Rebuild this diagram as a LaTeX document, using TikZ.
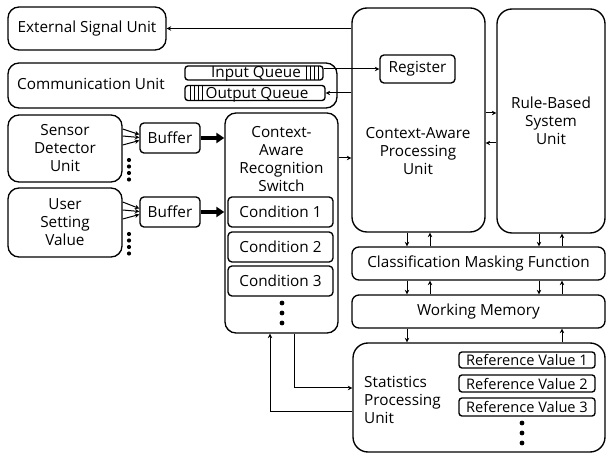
\documentclass[tikz,border=0pt]{standalone}
\usepackage{fontspec}
\setmainfont{Open Sans}
\usetikzlibrary{arrows.meta}
\begin{document}
\begin{tikzpicture}[x=1pt,y=-1pt,
  big/.style={draw, line width=1.35pt, rounded corners=11pt, inner sep=0pt},
  sml/.style={draw, line width=1.35pt, rounded corners=4pt, inner sep=0pt},
  txt/.style={align=center, font=\fontsize{15.3}{18}\selectfont, inner sep=0pt},
  rvt/.style={align=center, font=\fontsize{14.6}{17}\selectfont, inner sep=0pt},
  con/.style={line width=1pt, -{Stealth[length=4.5pt,width=4.5pt]}},
  fat/.style={line width=3.2pt, -{Triangle[length=8pt,width=10pt]}},
  dot/.style={fill, circle, inner sep=0pt, minimum size=4.8pt}
]
\useasboundingbox (0,0) rectangle (606,454);

% left column
\node[big, txt, minimum width=158pt, minimum height=43pt] (esu) at (87,28.5) {External Signal Unit};
\node[big, minimum width=329pt, minimum height=45pt] (comm) at (172.5,85.5) {};
\node[txt, anchor=west] (commlbl) at (17,84) {Communication Unit};
\node[sml, rounded corners=3pt, minimum width=138pt, minimum height=14pt] (inq) at (254,73) {};
\node[txt, anchor=base] (inqlbl) at (256,78) {Input Queue};
\node[sml, rounded corners=3pt, minimum width=140pt, minimum height=15pt] (outq) at (255,93) {};
\node[txt, anchor=base] (outqlbl) at (257,98.5) {Output Queue};
\foreach \xx in {306,310,314,318} {\draw[line width=1pt] (\xx,66) -- (\xx,80);}
\foreach \xx in {190,194,198,202} {\draw[line width=1pt] (\xx,85.5) -- (\xx,100.5);}

\node[big, txt, minimum width=114pt, minimum height=67pt] (sdu) at (65,148.5) {Sensor\\Detector\\Unit};
\node[big, txt, minimum width=114pt, minimum height=69pt] (usv) at (65,222.5) {User\\Setting\\Value};
\node[sml, txt, minimum width=60pt, minimum height=30pt] (buf1) at (170,138) {Buffer};
\node[sml, txt, minimum width=60pt, minimum height=30pt] (buf2) at (170,212) {Buffer};
\foreach \yy in {160,166.5,173,179.5} {\node[dot, minimum size=4.2pt] at (129,\yy) {};}
\foreach \yy in {234,240.5,247,253.5} {\node[dot, minimum size=4.2pt] at (129,\yy) {};}

% switch
\node[big, minimum width=113pt, minimum height=220pt] (sw) at (281.5,223) {};
\node[txt, font=\fontsize{15.3}{18.3}\selectfont] (swlbl) at (281.5,159) {Context-\\Aware\\Recognition\\Switch};
\node[sml, txt, minimum width=105pt, minimum height=30pt] (c1) at (280.5,212) {Condition 1};
\node[sml, txt, minimum width=105pt, minimum height=30pt] (c2) at (280.5,247) {Condition 2};
\node[sml, txt, minimum width=105pt, minimum height=30pt] (c3) at (280.5,281) {Condition 3};
\foreach \yy in {303,313,323} {\node[dot] at (282,\yy) {};}

% right part
\node[big, rounded corners=15pt, minimum width=133pt, minimum height=224pt] (capu) at (418.5,120) {};
\node[txt] (capulbl) at (418,151) {Context-Aware\\Processing\\Unit};
\node[sml, txt, minimum width=75pt, minimum height=28pt] (reg) at (417.5,69) {Register};
\node[big, rounded corners=15pt, txt, minimum width=108pt, minimum height=224pt] (rbsu) at (551,121) {Rule-Based\\System\\Unit};
\node[big, rounded corners=7pt, txt, minimum width=253pt, minimum height=33pt] (cmf) at (478.5,263.5) {Classification Masking Function};
\node[big, rounded corners=7pt, txt, minimum width=253pt, minimum height=33pt] (wm) at (478.5,311.5) {Working Memory};
\node[big, rounded corners=15pt, minimum width=252pt, minimum height=109pt] (spu) at (479,397.5) {};
\node[txt, align=left, anchor=west] (spulbl) at (364,400) {Statistics\\Processing\\Unit};
\node[sml, rounded corners=3pt, rvt, minimum width=136pt, minimum height=16pt] (rv1) at (527,360) {Reference Value 1};
\node[sml, rounded corners=3pt, rvt, minimum width=136pt, minimum height=17pt] (rv2) at (527,383.5) {Reference Value 2};
\node[sml, rounded corners=3pt, rvt, minimum width=136pt, minimum height=18pt] (rv3) at (527,407) {Reference Value 3};
\foreach \yy in {423,433,443} {\node[dot] at (522,\yy) {};}

% connectors
\draw[con] (capu.west |- esu.east) -- (esu.east);
\draw[con] (inq.east |- reg.west) -- (reg.west);
\draw[con] (capu.west |- outq.east) -- (outq.east);
\draw[con] (sw.east |- 0,158) -- (capu.west |- 0,158);
\draw[con] (capu.east |- 0,113) -- (rbsu.west |- 0,113);
\draw[con] (rbsu.west |- 0,143) -- (capu.east |- 0,143);

\draw[con] (capu.south -| 407,0) -- (cmf.north -| 407,0);
\draw[con] (cmf.north -| 430,0) -- (capu.south -| 430,0);
\draw[con] (rbsu.south -| 539,0) -- (cmf.north -| 539,0);
\draw[con] (cmf.north -| 562,0) -- (rbsu.south -| 562,0);
\draw[con] (cmf.south -| 407,0) -- (wm.north -| 407,0);
\draw[con] (wm.north -| 430,0) -- (cmf.south -| 430,0);
\draw[con] (cmf.south -| 539,0) -- (wm.north -| 539,0);
\draw[con] (wm.north -| 562,0) -- (cmf.south -| 562,0);
\draw[con] (wm.south -| 407,0) -- (spu.north -| 407,0);
\draw[con] (spu.north -| 562,0) -- (wm.south -| 562,0);

\draw[con] (sw.south -| 294,0) -- (294,388) -- (spu.west |- 0,388);
\draw[con] (spu.west |- 0,412) -- (270,412) -- (sw.south -| 270,0);

\draw[con] (sdu.east |- 0,129) -- (buf1.west |- 0,134.5);
\draw[con] (sdu.east |- 0,136) -- (buf1.west |- 0,137.5);
\draw[con] (sdu.east |- 0,145) -- (buf1.west |- 0,140.5);
\draw[con] (usv.east |- 0,202) -- (buf2.west |- 0,208.5);
\draw[con] (usv.east |- 0,210) -- (buf2.west |- 0,211.5);
\draw[con] (usv.east |- 0,219) -- (buf2.west |- 0,214.5);

\draw[fat] (buf1.east) -- (sw.west |- buf1.east);
\draw[fat] (buf2.east) -- (sw.west |- buf2.east);
\end{tikzpicture}
\end{document}
